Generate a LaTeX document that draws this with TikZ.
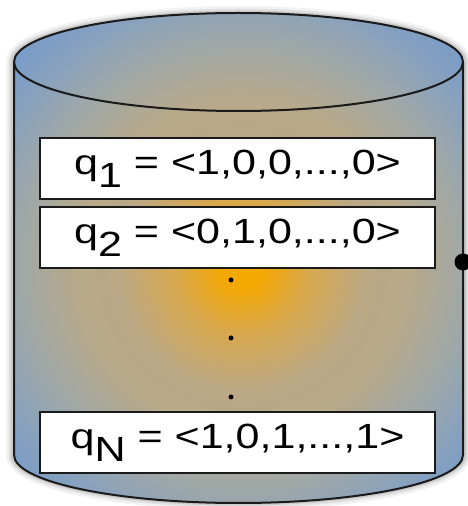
\documentclass[tikz,border=0pt]{standalone}
\usepackage{fontspec}
\setmainfont{Liberation Sans}
\usepackage{graphicx}
\usepackage{tikz}
\usetikzlibrary{positioning}

\definecolor{glow}{HTML}{F5A800}
\definecolor{tanhigh}{HTML}{D8A84C}
\definecolor{tanmid}{HTML}{BAA886}
\definecolor{tanlow}{HTML}{B8A98A}
\definecolor{greyside}{HTML}{A0A8A6}
\definecolor{bluemid}{HTML}{8AA2BC}
\definecolor{blueedge}{HTML}{7A9CC8}
\definecolor{rim}{HTML}{1A1A1A}

\pgfdeclareradialshading{cylglow}{\pgfpoint{0bp}{0bp}}{%
    color(0bp)=(glow); color(22bp)=(glow!95!tanhigh); color(66bp)=(tanhigh);
    color(125bp)=(tanmid); color(165bp)=(tanlow); color(220bp)=(greyside);
    color(265bp)=(bluemid); color(305bp)=(blueedge); color(370bp)=(blueedge)}

\newcommand{\qsub}[1]{\raisebox{-0.36em}{#1}}
\newcommand{\qtext}[1]{\scalebox{1.23}[1]{#1}}

\tikzset{
    qbox/.style={draw=rim, fill=white, line width=2pt, minimum width=395pt,
        minimum height=61pt, inner sep=0pt, font=\fontsize{35}{38}\selectfont},
    vdot/.style={circle, fill=black, inner sep=0pt, minimum size=5pt},
    port/.style={circle, fill=black, inner sep=0pt, minimum size=17pt}
}

\begin{document}
\begin{tikzpicture}[x=1pt,y=1pt]
    \useasboundingbox (0,0) rectangle (468,506);
    \foreach \w/\o in {12/0.05,7/0.07,3/0.1}
        \draw[line width=\w pt, black, opacity=\o] (12,444) -- (12,51)
            arc[start angle=180, end angle=360, x radius=226.5, y radius=49] -- (465,444)
            arc[start angle=0, end angle=180, x radius=226.5, y radius=50] -- cycle;
    \begin{scope}
        \clip (14,444) -- (14,51)
            arc[start angle=180, end angle=360, x radius=224.5, y radius=48] -- (463,444)
            arc[start angle=0, end angle=180, x radius=224.5, y radius=49] -- cycle;
        \begin{scope}[shift={(242,240)}]
            \pgflowlevelsynccm
            \pgfuseshading{cylglow}
        \end{scope}
    \end{scope}
    \draw[rim, line width=2pt] (14,444) -- (14,51)
        arc[start angle=180, end angle=360, x radius=224.5, y radius=48] -- (463,444);
    \draw[rim, line width=2pt] (238.5,444) ellipse[x radius=224.5, y radius=49];
    \node[qbox] (q1) at (237.5,337.5) {\qtext{q\qsub{1} = <1,0,0,...,0>}};
    \node[qbox] (q2) at (237.5,268.5) {\qtext{q\qsub{2} = <0,1,0,...,0>}};
    \node[qbox] (qN) at (237.5,63.5) {\qtext{q\qsub{N} = <1,0,1,...,1>}};
    \node[vdot] (d1) at (231,226) {};
    \node[vdot] (d2) at (231,168) {};
    \node[vdot] (d3) at (231,109) {};
    \node[port] (out) at (463,244) {};
\end{tikzpicture}
\end{document}
